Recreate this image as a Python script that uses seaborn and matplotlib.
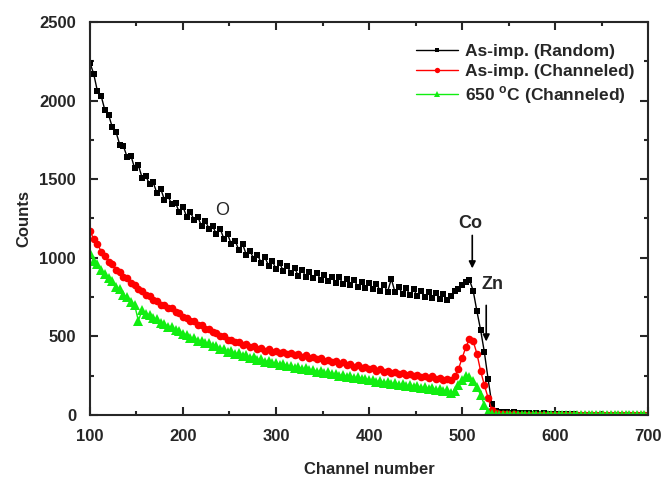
import numpy as np
import pandas as pd
import matplotlib
matplotlib.use('Agg')
import matplotlib.pyplot as plt
from matplotlib.ticker import MultipleLocator
import seaborn as sns

sns.set_style('ticks')
plt.rcParams['font.family'] = ['Liberation Sans', 'DejaVu Sans']
plt.rcParams['font.weight'] = 'bold'

# channel grid (every 4th channel from 100 to 700)
channels = np.arange(100, 701, 4)

# As-imp. (Random) counts
random_counts = [
    2240, 2170, 2060, 2030, 1940, 1910, 1830, 1800, 1720, 1710,
    1640, 1650, 1570, 1590, 1510, 1520, 1470, 1480, 1410, 1440,
    1370, 1390, 1340, 1350, 1290, 1325, 1260, 1290, 1240, 1260,
    1200, 1235, 1185, 1200, 1150, 1185, 1120, 1150, 1085, 1110,
    1050, 1090, 1020, 1045, 995, 1020, 970, 1005, 950, 980,
    930, 965, 915, 945, 905, 935, 885, 925, 880, 910,
    870, 905, 860, 890, 855, 880, 840, 875, 835, 865,
    825, 860, 815, 845, 810, 840, 800, 835, 790, 825,
    785, 865, 780, 815, 770, 805, 765, 800, 755, 790,
    750, 785, 745, 775, 735, 770, 730, 760, 790, 800,
    825, 845, 860, 790, 660, 540, 400, 230, 70, 25,
    20, 18, 20, 15, 18, 12, 15, 10, 14, 8,
    12, 6, 10, 5, 8, 4, 6, 3, 5, 2,
    4, 2, 3, 1, 3, 2, 2, 1, 2, 1,
    2, 1, 1, 2, 1, 1, 2, 1, 1, 1,
    1,
]

# As-imp. (Channeled)
channeled_counts = [
    1170, 1120, 1090, 1040, 1010, 975, 960, 925, 910, 880,
    870, 840, 830, 800, 790, 765, 755, 730, 725, 700,
    700, 680, 680, 655, 650, 625, 615, 600, 595, 575,
    570, 550, 545, 525, 520, 500, 500, 480, 480, 462,
    465, 448, 452, 435, 440, 422, 428, 410, 418, 400,
    410, 395, 402, 388, 395, 380, 388, 372, 380, 365,
    372, 356, 362, 345, 352, 336, 342, 326, 334, 316,
    324, 306, 315, 298, 306, 290, 298, 282, 290, 274,
    282, 266, 275, 258, 268, 252, 262, 246, 255, 240,
    250, 235, 245, 228, 238, 222, 232, 220, 245, 290,
    360, 430, 485, 470, 390, 280, 190, 110, 35, 10,
    6, 5, 4, 3, 4, 2, 3, 2, 2, 1,
    2, 1, 2, 1, 1, 0, 1, 1, 0, 1,
    0, 1, 0, 1, 0, 0, 1, 0, 0, 1,
    0, 0, 1, 0, 0, 1, 0, 0, 0, 1,
    0,
]

# 650 oC (Channeled)
annealed_counts = [
    1030, 980, 960, 920, 900, 870, 850, 815, 800, 765,
    750, 720, 700, 600, 665, 640, 635, 615, 610, 585,
    580, 560, 560, 540, 535, 515, 510, 492, 490, 472,
    470, 455, 455, 438, 436, 420, 420, 402, 405, 390,
    392, 378, 380, 365, 368, 352, 355, 340, 342, 328,
    332, 320, 324, 310, 314, 300, 305, 292, 296, 284,
    288, 276, 280, 268, 272, 260, 264, 250, 256, 242,
    248, 235, 240, 228, 232, 220, 225, 212, 218, 205,
    210, 198, 203, 190, 196, 184, 190, 176, 182, 170,
    176, 164, 170, 158, 165, 150, 158, 140, 150, 190,
    225, 245, 240, 215, 180, 125, 65, 18, 4, 2,
    2, 1, 1, 2, 1, 0, 1, 1, 0, 1,
    0, 1, 0, 0, 1, 0, 0, 1, 0, 0,
    1, 0, 0, 1, 0, 0, 0, 1, 0, 0,
    0, 1, 0, 0, 0, 1, 0, 0, 1, 0,
    0,
]

labels = ['As-imp. (Random)', 'As-imp. (Channeled)', r'650 $^\mathregular{o}$C (Channeled)']
colors = ['black', '#ff0000', '#11ee11']
markers = ['s', 'o', '^']
msizes = [5, 5.5, 6.5]
series = [random_counts, channeled_counts, annealed_counts]

fig = plt.figure(figsize=(6.64, 4.79), dpi=100)
ax = fig.add_axes([0.1355, 0.1336, 0.8405, 0.8205])

for lab, col, mk, ms, ys in zip(labels, colors, markers, msizes, series):
    df = pd.DataFrame({'channel': channels, 'counts': ys})
    sns.lineplot(data=df, x='channel', y='counts', ax=ax, color=col, label=lab,
                 marker=mk, markersize=ms, markeredgewidth=0, linewidth=1.0,
                 estimator=None, sort=False)

ax.set_xlim(100, 700)
ax.set_ylim(0, 2500)
ax.xaxis.set_major_locator(MultipleLocator(100))
ax.xaxis.set_minor_locator(MultipleLocator(50))
ax.yaxis.set_major_locator(MultipleLocator(500))
ax.yaxis.set_minor_locator(MultipleLocator(250))
ax.tick_params(which='both', direction='in', top=True, right=True, width=1.5)
ax.tick_params(which='major', length=6, labelsize=12, pad=10)
ax.tick_params(which='minor', length=3)
for s in ax.spines.values():
    s.set_linewidth(1.5)

ax.set_xlabel('Channel number', fontsize=12, fontweight='bold', labelpad=13)
ax.set_ylabel('Counts', fontsize=12, fontweight='bold', labelpad=6)

ax.text(242, 1304, 'O', fontsize=13, fontweight='normal', ha='center', va='center')
ax.text(509, 1215, 'Co', fontsize=13, fontweight='bold', ha='center', va='center')
ax.text(533, 833, 'Zn', fontsize=13, fontweight='bold', ha='center', va='center')
ax.annotate('', xy=(511, 915), xytext=(511, 1160),
            arrowprops=dict(arrowstyle='-|>', color='black', lw=1.2, mutation_scale=10))
ax.annotate('', xy=(526, 450), xytext=(526, 715),
            arrowprops=dict(arrowstyle='-|>', color='black', lw=1.2, mutation_scale=10))

ax.legend(loc='upper right', bbox_to_anchor=(0.975, 0.945), frameon=False,
          fontsize=12.5, handlelength=2.4, handletextpad=0.4, labelspacing=0.3,
          borderaxespad=0, borderpad=0, markerscale=0.7)

fig.savefig('out.png', dpi=100)
